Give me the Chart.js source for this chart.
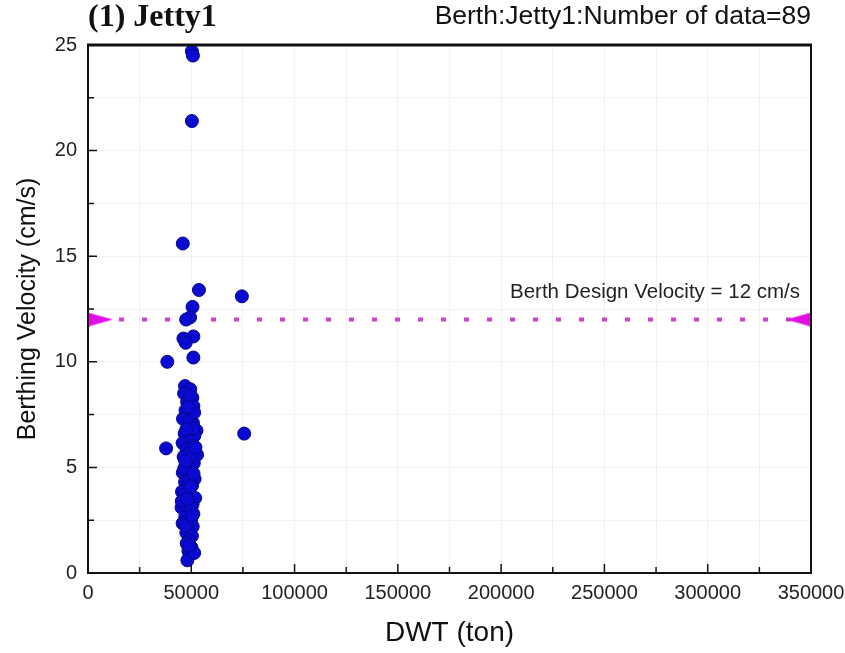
<!DOCTYPE html>
<html>
<head>
<meta charset="utf-8">
<script src="https://cdn.jsdelivr.net/npm/chart.js@4.4.1/dist/chart.umd.min.js"></script>
<style>
  html, body { margin: 0; padding: 0; background: #fff; }
  #wrap { width: 845px; height: 653px; }
</style>
</head>
<body>
<div id="wrap"><canvas id="chart" width="845" height="653"></canvas></div>
<script>
// DWT (ton) of each berthing
const dwt = [
    50300, 50800, 50300, 45900, 53700, 74500, 50600, 49400, 47500, 51000,
    46200, 47300, 51000, 38400, 75600, 37800,
    47000, 49500, 46500, 50500, 48000, 51000, 47200, 49800, 46000, 50800,
    48500, 52500, 46800, 51500, 49000, 45800, 50200, 47800, 52800, 46300,
    49600, 51200, 47400, 50000, 45900, 48800, 51600, 47000, 50400, 48200,
    45500, 49700, 51900, 46900, 50600, 45300, 48400, 51000, 47100, 49900,
    45800, 50700, 48300, 47600, 50300, 48900, 47800, 50100, 48600, 49200,
    48100, 51400, 49400, 48800, 50900, 49300, 47600, 48900, 50000, 47300,
    46500, 49000, 51400, 46600, 50100, 48400, 52000, 47100, 49600, 45400,
    50400, 48100, 51100
];
// berthing velocity (cm/s)
const velocity = [
    24.7, 24.5, 21.4, 15.6, 13.4, 13.1, 12.6, 12.1, 12.0, 11.2,
    11.1, 10.9, 10.2, 10.0, 6.6, 5.9,
    8.85, 8.7, 8.5, 8.3, 8.1, 7.9, 7.7, 7.5, 7.3, 7.1,
    6.95, 6.75, 6.6, 6.5, 6.3, 6.15, 6.0, 5.85, 5.6, 5.5,
    5.35, 5.2, 5.05, 4.9, 4.75, 4.6, 4.45, 4.3, 4.15, 4.0,
    3.85, 3.7, 3.55, 3.4, 3.25, 3.1, 2.95, 2.8, 2.65, 2.5,
    2.35, 2.2, 2.05, 1.9, 1.75, 1.55, 1.4, 1.2, 1.05, 0.85,
    0.6, 0.95, 8.4, 7.2, 6.85, 5.7, 6.8, 4.35, 3.1, 2.25,
    3.7, 1.3, 7.6, 4.95, 5.55, 7.85, 5.95, 5.3, 4.1, 3.4,
    2.7, 3.5, 4.7
];
const designVelocity = 12;
const designLineX = [0, 350000];

const xMax = 350000, xStep = 25000;
const yMax = 25, yStep = 2.5;

const SANS = '"Liberation Sans", Arial, sans-serif';
const SERIF = '"Liberation Serif", "Times New Roman", serif';

// 細長い三角形マーカー（線の端）
function makeArrow(pointRight) {
    const L = 25, H = 14;
    const c = document.createElement('canvas');
    c.width = L * 2;
    c.height = H;
    const g = c.getContext('2d');
    g.fillStyle = '#e010e0';
    g.beginPath();
    if (pointRight) {
        g.moveTo(L, 0); g.lineTo(2 * L, H / 2); g.lineTo(L, H);
    } else {
        g.moveTo(L, 0); g.lineTo(0, H / 2); g.lineTo(L, H);
    }
    g.closePath();
    g.fill();
    return c;
}

const frameAndTicks = {
    id: 'frameAndTicks',
    afterDraw(chart) {
        const { ctx, chartArea: a, scales } = chart;
        ctx.save();
        ctx.strokeStyle = '#111';
        ctx.lineWidth = 1.5;
        // inside ticks
        ctx.beginPath();
        scales.x.ticks.forEach(t => {
            const px = scales.x.getPixelForValue(t.value);
            const len = t.value % 50000 === 0 ? 9 : 6;
            ctx.moveTo(px, a.bottom);
            ctx.lineTo(px, a.bottom - len);
        });
        scales.y.ticks.forEach(t => {
            const py = scales.y.getPixelForValue(t.value);
            const len = t.value % 5 === 0 ? 9 : 6;
            ctx.moveTo(a.left, py);
            ctx.lineTo(a.left + len, py);
        });
        ctx.stroke();
        // frame
        ctx.lineWidth = 2;
        ctx.strokeRect(a.left, a.top, a.right - a.left, a.bottom - a.top);
        ctx.lineWidth = 3;
        ctx.beginPath();
        ctx.moveTo(a.left - 1, a.top);
        ctx.lineTo(a.right + 1, a.top);
        ctx.stroke();

        // header
        ctx.fillStyle = '#111';
        ctx.textBaseline = 'middle';
        ctx.font = 'bold 32px ' + SERIF;
        ctx.textAlign = 'left';
        ctx.fillText('(1) Jetty1', a.left, 18);
        ctx.font = '26.5px ' + SANS;
        ctx.textAlign = 'right';
        ctx.fillText('Berth:Jetty1:Number of data=' + dwt.length, a.right, 17);

        // design line label
        ctx.font = '20.5px ' + SANS;
        ctx.fillStyle = '#222';
        ctx.fillText('Berth Design Velocity = ' + designVelocity + ' cm/s',
            a.right - 11, scales.y.getPixelForValue(designVelocity) - 27);
        ctx.restore();
    }
};

const points = dwt.map((x, i) => ({ x: x, y: velocity[i] }));

new Chart(document.getElementById('chart'), {
    type: 'scatter',
    data: {
        datasets: [
            {
                label: 'Jetty1',
                data: points,
                pointRadius: 6.5,
                pointHoverRadius: 6.5,
                backgroundColor: '#0a0ad0',
                borderColor: '#06068f',
                borderWidth: 1
            },
            {
                type: 'line',
                label: 'Berth Design Velocity',
                data: designLineX.map(x => ({ x: x, y: designVelocity })),
                borderColor: '#d040d0',
                borderWidth: 4,
                borderDash: [5, 18],
                borderDashOffset: -8,
                pointStyle: [makeArrow(true), makeArrow(false)],
                pointRadius: 10,
                fill: false
            }
        ]
    },
    options: {
        responsive: false,
        animation: false,
        layout: { padding: { top: 45, right: 34, left: 0, bottom: 0 } },
        plugins: {
            legend: { display: false },
            tooltip: { enabled: false }
        },
        scales: {
            x: {
                type: 'linear',
                min: 0,
                max: xMax,
                afterFit: s => { s.height = 80; s.paddingLeft = 0; s.paddingRight = 0; },
                ticks: {
                    stepSize: xStep,
                    autoSkip: false,
                    maxRotation: 0,
                    padding: 8,
                    color: '#222',
                    font: { family: SANS, size: 20 },
                    callback: v => (v % 50000 === 0 ? String(v) : '')
                },
                grid: { color: '#f1f1f1', drawTicks: false },
                border: { display: false },
                title: {
                    display: true,
                    text: 'DWT (ton)',
                    color: '#111',
                    font: { family: SANS, size: 28 },
                    padding: { top: 0, bottom: 3 }
                }
            },
            y: {
                min: 0,
                max: yMax,
                afterFit: s => { s.width = 88; s.paddingTop = 0; s.paddingBottom = 0; },
                ticks: {
                    stepSize: yStep,
                    autoSkip: false,
                    padding: 11,
                    color: '#222',
                    font: { family: SANS, size: 20 },
                    callback: v => (v % 5 === 0 ? String(v) : '')
                },
                grid: { color: '#f1f1f1', drawTicks: false },
                border: { display: false },
                title: {
                    display: true,
                    text: 'Berthing Velocity (cm/s)',
                    color: '#111',
                    font: { family: SANS, size: 25 },
                    padding: { top: 13, bottom: 0 }
                }
            }
        }
    },
    plugins: [frameAndTicks]
});
</script>
</body>
</html>
